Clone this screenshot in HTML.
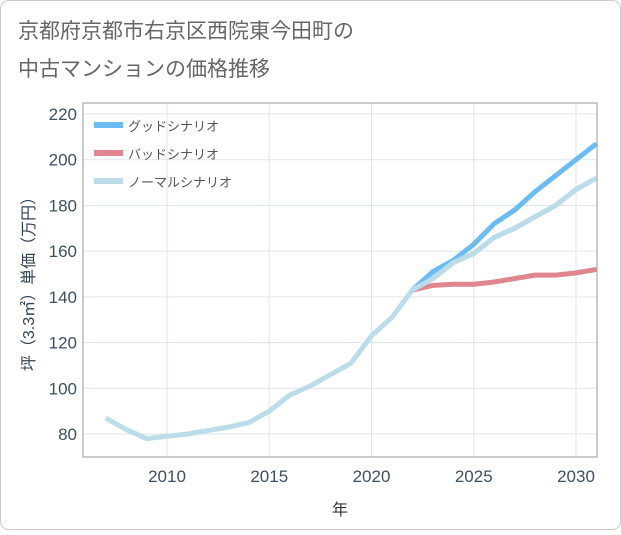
<!DOCTYPE html>
<html><head><meta charset="utf-8"><style>
body{margin:0;background:#fff;font-family:"Liberation Sans","Noto Sans CJK JP",sans-serif;}
#wrap{position:relative;width:621px;height:530px;}
</style></head><body>
<div id="wrap">
<svg id="chart" width="621" height="530">
<rect x="0.5" y="0.5" width="620" height="529" rx="8" fill="#fff" stroke="#ccc"/>
<text x="18" y="38" font-size="21" fill="#666">京都府京都市右京区西院東今田町の</text>
<text x="18" y="76" font-size="21" fill="#666">中古マンションの価格推移</text>
<g id="grid"></g><g id="series"></g><g id="axes"></g>
<text x="340" y="515" font-size="16" fill="#333" text-anchor="middle">年</text>
<text transform="translate(34,280) rotate(-90)" font-size="16" fill="#345" text-anchor="middle">坪（3.3㎡）単価（万円）</text>
</svg>
</div>
<script>
const years=[2007,2008,2009,2010,2011,2012,2013,2014,2015,2016,2017,2018,2019,2020,2021,2022,2023,2024,2025,2026,2027,2028,2029,2030,2031];
const normal=[87,82,78,79,80,81.5,83,85,90,97,101,106,111,123,131,143,148,155,159,166,170,175,180,187,192];
const futureYears=[2022,2023,2024,2025,2026,2027,2028,2029,2030,2031];
const good=[143,151,156,163,172,178,186,193,200,207];
const bad=[143,145,145.5,145.5,146.5,148,149.5,149.5,150.5,152];
const xTicks=[2010,2015,2020,2025,2030];
const yTicks=[80,100,120,140,160,180,200,220];
const L=83,R=597,T=103,B=457;
const x=v=>167+(v-2010)*20.45;
const y=v=>434-(v-80)*2.2857;
const NS="http://www.w3.org/2000/svg";
function mk(t,a,p){const e=document.createElementNS(NS,t);for(const k in a)e.setAttribute(k,a[k]);p.appendChild(e);return e;}
const grid=document.getElementById('grid'),axes=document.getElementById('axes'),ser=document.getElementById('series');
mk('rect',{x:L,y:T,width:R-L,height:B-T,fill:'none',stroke:'#999'},axes);
xTicks.forEach(t=>{const l=mk('line',{x1:x(t),x2:x(t),y1:T,y2:B,stroke:'#dde6ee'},grid);


const tx=mk('text',{x:x(t),y:B+25,'font-size':17,fill:'#3d4f63','text-anchor':'middle'},axes);tx.textContent=t;

});
yTicks.forEach(t=>{const l=mk('line',{x1:L,x2:R,y1:y(t),y2:y(t),stroke:'#dde6ee'},grid);


const tx=mk('text',{x:L-6,y:y(t)+6,'font-size':17,fill:'#3d4f63','text-anchor':'end'},axes);tx.textContent=t;

});
function line(xs,vs,c,n){const p=mk('polyline',{points:xs.map((v,i)=>x(v)+','+y(vs[i])).join(' '),fill:'none',stroke:c,'stroke-width':5,'stroke-linejoin':'round'},ser);

}
line(years,normal,'#bcdcea','normal-scenario-line');
line(futureYears,bad,'#e0868e','bad-scenario-line');
line(futureYears,good,'#6bbcf2','good-scenario-line');
line(futureYears,normal.slice(15),'#bcdcea','normal-scenario-future');
const leg=[['グッドシナリオ','#6bbcf2'],['バッドシナリオ','#e0868e'],['ノーマルシナリオ','#bcdcea']];
leg.forEach((d,i)=>{const g=mk('g',{},axes);


mk('rect',{x:94,y:122+i*28,width:29,height:6,fill:d[1]},g);
const t=mk('text',{x:128,y:131+i*28,'font-size':13,fill:'#555'},g);t.textContent=d[0];});
</script>
</body></html>
